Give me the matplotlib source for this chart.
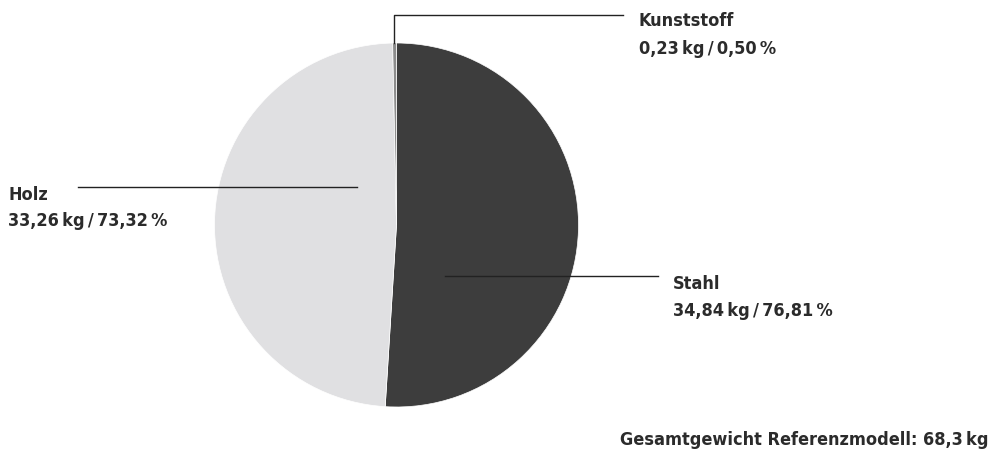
import matplotlib.pyplot as plt

# data (clockwise from 12 o'clock)
materials = ["Stahl", "Holz", "Kunststoff"]
weights_kg = [34.84, 33.26, 0.23]
shares_pct = [76.81, 73.32, 0.50]
colors = ["#3d3d3d", "#e0e0e2", "#8c8c8c"]
total_label = "Gesamtgewicht Referenzmodell: 68,3\u2009kg"

W, H = 996, 455
plt.rcParams['font.family'] = ["DejaVu Sans"]

fig = plt.figure(figsize=(W / 100, H / 100), dpi=100)
ax = fig.add_axes([0, 0, 1, 1])

cx, cy, r = 396.5, H - 225, 182
ax.pie(weights_kg, colors=colors, startangle=90, counterclock=False,
       center=(cx, cy), radius=r, frame=True,
       wedgeprops=dict(edgecolor="white", linewidth=0.5))
ax.set_xlim(0, W)
ax.set_ylim(0, H)
ax.set_aspect('equal')
ax.axis('off')


def fmt(v, d=2):
    return f"{v:.{d}f}".replace(".", ",")


def label(i):
    return f"{fmt(weights_kg[i])}\u2009kg\u2009/\u2009{fmt(shares_pct[i])}\u2009%"


txt = dict(color="#2b2b2b", fontsize=13, fontweight="bold", fontstretch="condensed",
           va="center", ha="left")
lc = "#222222"

# Kunststoff leader
ax.plot([394, 394, 623], [H - 43, H - 15, H - 15], color=lc, lw=1)
ax.text(639, H - 21, materials[2], **txt)
ax.text(639, H - 49, label(2), **txt)

# Holz leader
ax.plot([78, 357], [H - 187, H - 187], color=lc, lw=1)
ax.text(8, H - 195, materials[1], **txt)
ax.text(8, H - 221, label(1), **txt)

# Stahl leader
ax.plot([445, 658], [H - 276, H - 276], color=lc, lw=1)
ax.text(673, H - 284, materials[0], **txt)
ax.text(673, H - 311, label(0), **txt)

ax.text(988, H - 440, total_label, **{**txt, "ha": "right"})

fig.savefig("out.png", dpi=100)
